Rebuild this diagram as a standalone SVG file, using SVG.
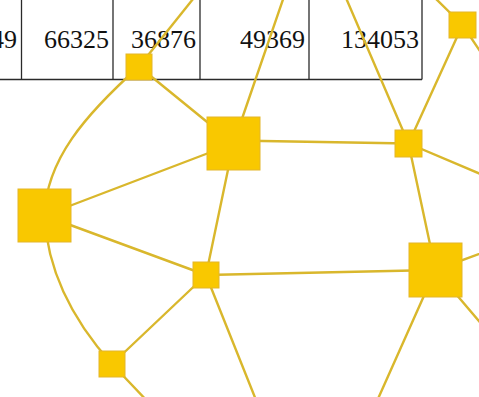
<svg xmlns="http://www.w3.org/2000/svg" width="479" height="397" viewBox="0 0 479 397">
<style>
.bg{fill:#ffffff}
.tl{stroke:#2a2a2a;stroke-width:1.3;fill:none}
.num{font-family:"Liberation Serif","Times New Roman",serif;font-size:26px;fill:#111;text-anchor:end}
.e{stroke:#d9b72c;stroke-width:2.4;fill:none;stroke-linecap:round}
.n{fill:#f9c800;stroke:#e3b62a;stroke-width:1}
</style>
<rect class="bg" x="0" y="0" width="479" height="397"/>
<g id="table">
<line class="tl" x1="0" y1="79.5" x2="422" y2="79.5"/>
<line class="tl" x1="21.5" y1="0" x2="21.5" y2="79.5"/>
<line class="tl" x1="113" y1="0" x2="113" y2="79.5"/>
<line class="tl" x1="200" y1="0" x2="200" y2="79.5"/>
<line class="tl" x1="309" y1="0" x2="309" y2="79.5"/>
<line class="tl" x1="422" y1="0" x2="422" y2="79.5"/>
<text class="num" x="17" y="48">49</text>
<text class="num" x="109" y="48">66325</text>
<text class="num" x="196" y="48">36876</text>
<text class="num" x="305" y="48">49369</text>
<text class="num" x="419" y="48">134053</text>
</g>
<g id="connectors">
<line class="e" x1="139" y1="66.5" x2="205" y2="-16"/>
<line class="e" x1="139" y1="66.5" x2="233.5" y2="143.5"/>
<path class="e" d="M139,66.5 C85,115 46,160 44.5,215.5"/>
<line class="e" x1="233.5" y1="143.5" x2="289" y2="-18"/>
<line class="e" x1="408.5" y1="143.5" x2="340" y2="-16"/>
<line class="e" x1="462.5" y1="25" x2="408.5" y2="143.5"/>
<line class="e" x1="462.5" y1="25" x2="432" y2="-5"/>
<line class="e" x1="462.5" y1="25" x2="490" y2="66"/>
<line class="e" x1="44.5" y1="215.5" x2="233.5" y2="143.5"/>
<line class="e" x1="233.5" y1="140.5" x2="408.5" y2="143.5"/>
<line class="e" x1="233.5" y1="143.5" x2="206" y2="275"/>
<line class="e" x1="44.5" y1="215.5" x2="206" y2="275"/>
<path class="e" d="M44.5,215.5 Q48.4,293.3 112,364"/>
<line class="e" x1="206" y1="275" x2="112" y2="364"/>
<line class="e" x1="112" y1="364" x2="150" y2="404"/>
<line class="e" x1="206" y1="275" x2="435.5" y2="270"/>
<line class="e" x1="206" y1="275" x2="260" y2="410"/>
<line class="e" x1="408.5" y1="143.5" x2="435.5" y2="270"/>
<line class="e" x1="408.5" y1="143.5" x2="490" y2="178"/>
<line class="e" x1="435.5" y1="270" x2="490" y2="250"/>
<line class="e" x1="435.5" y1="270" x2="490" y2="334"/>
<line class="e" x1="435.5" y1="270" x2="373" y2="410"/>
</g>
<g id="nodeA"><rect class="n" x="126" y="54" width="26" height="26"/></g>
<g id="nodeB"><rect class="n" x="449" y="12" width="27" height="26"/></g>
<g id="nodeC"><rect class="n" x="207" y="117" width="53" height="53"/></g>
<g id="nodeD"><rect class="n" x="18" y="189" width="53" height="53"/></g>
<g id="nodeE"><rect class="n" x="395" y="130" width="27" height="27"/></g>
<g id="nodeF"><rect class="n" x="193" y="262" width="26" height="26"/></g>
<g id="nodeG"><rect class="n" x="409" y="243" width="53" height="54"/></g>
<g id="nodeH"><rect class="n" x="99" y="351" width="26" height="26"/></g>
</svg>
